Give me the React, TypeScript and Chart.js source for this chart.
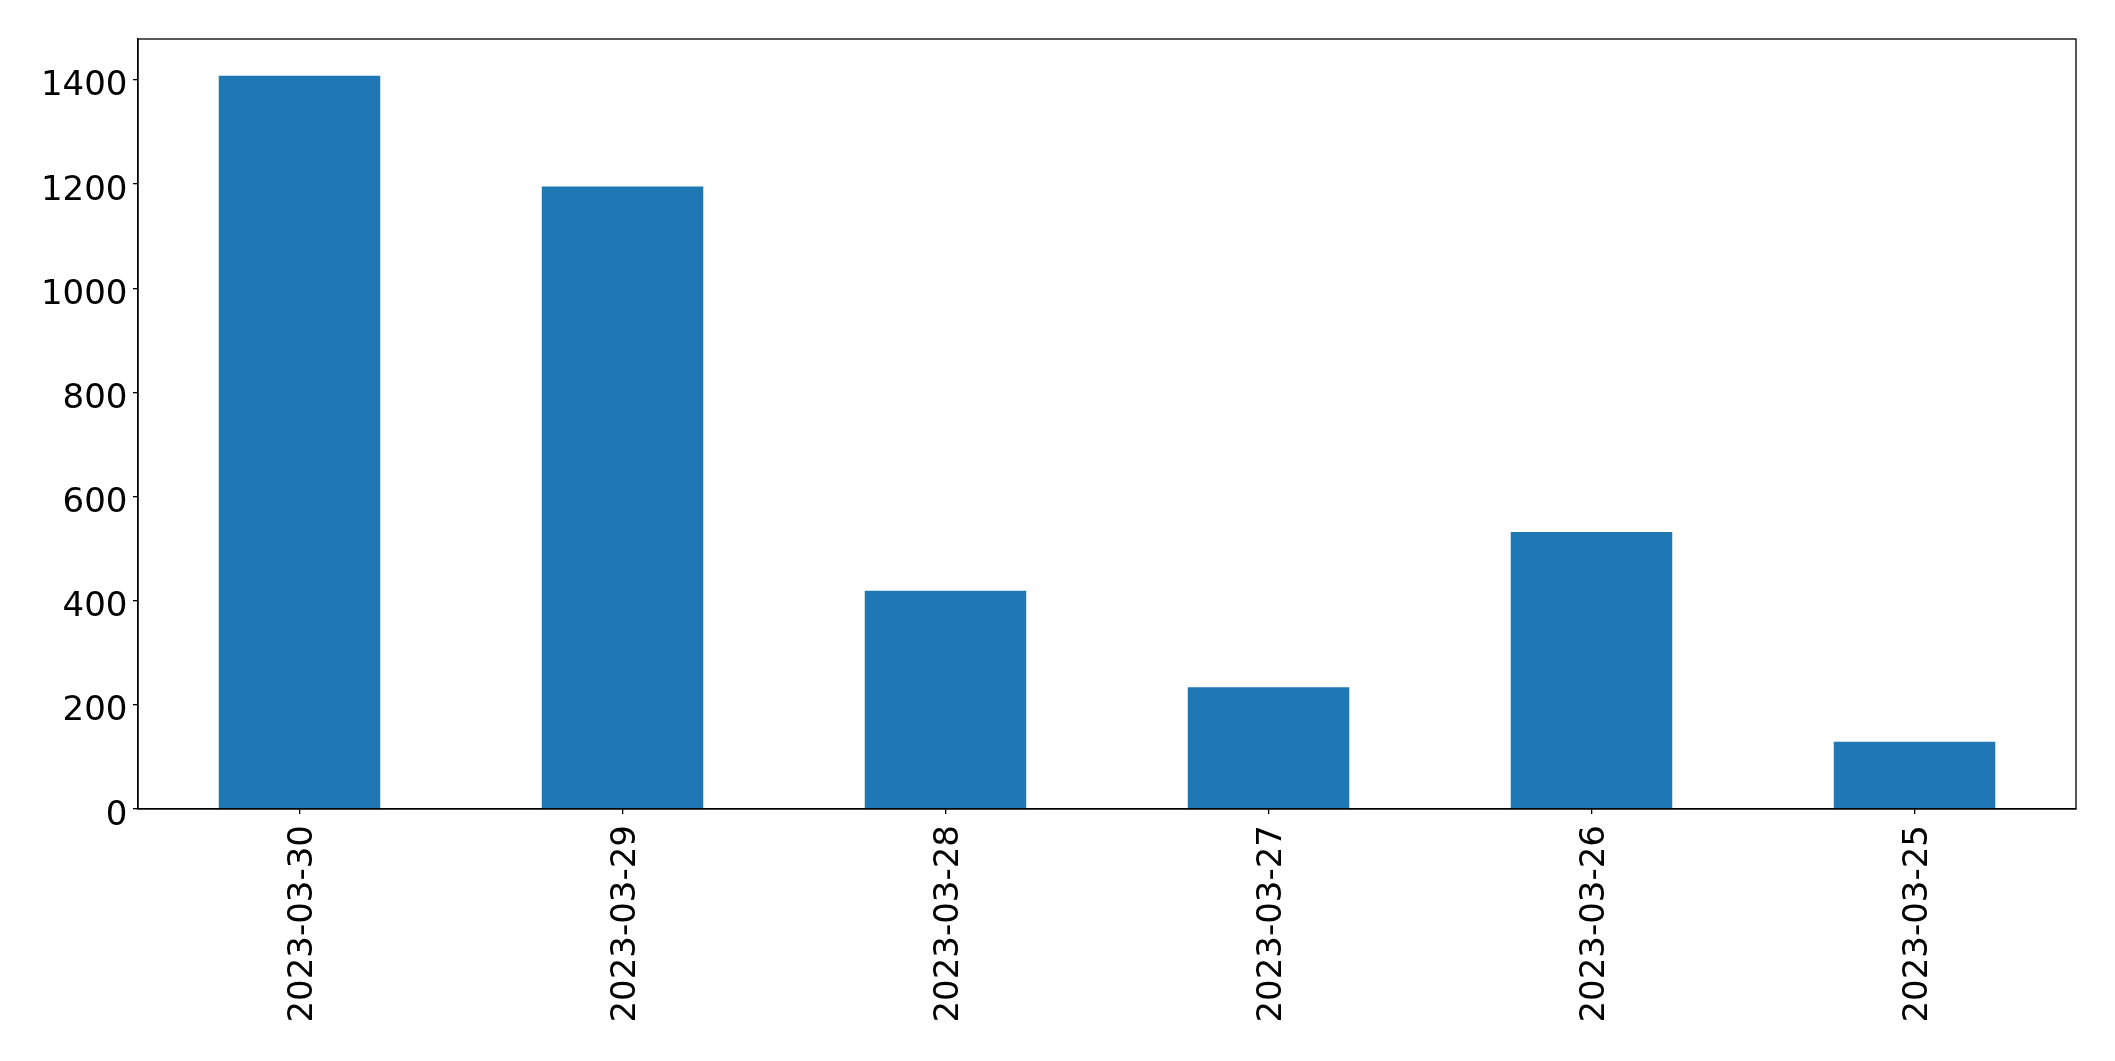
import React, { useEffect, useRef } from "react";
import { Chart, registerables } from "chart.js";

Chart.register(...registerables);

const categories = ["2023-03-30", "2023-03-29", "2023-03-28", "2023-03-27", "2023-03-26", "2023-03-25"];
const values = [1408, 1195, 419, 234, 532, 129];
const yTickValues = [0, 200, 400, 600, 800, 1000, 1200, 1400];

const W = 2115;
const H = 1061;
const FONT_SIZE = 34;
const FONT = "'DejaVu Sans', sans-serif";

const boxPlugin = {
  id: "boxPlugin",
  afterDatasetsDraw(chart: any) {
    const { ctx, chartArea } = chart;
    ctx.save();
    ctx.strokeStyle = "#000";
    ctx.lineWidth = 1.3;
    ctx.strokeRect(chartArea.left, chartArea.top, chartArea.right - chartArea.left, chartArea.bottom - chartArea.top);
    ctx.restore();
  },
};

// Draws tick labels matplotlib-style (real canvas text), positioned via the library's scales.
const labelPlugin = {
  id: "labelPlugin",
  afterDraw(chart: any) {
    const { ctx, chartArea } = chart;
    const xs = chart.scales.x;
    const ys = chart.scales.y;
    ctx.save();
    ctx.fillStyle = "#000";
    ctx.font = `${FONT_SIZE}px ${FONT}`;
    // y labels
    ctx.textAlign = "right";
    ctx.textBaseline = "alphabetic";
    ys.ticks.forEach((t: any) => {
      const y = ys.getPixelForValue(t.value);
      ctx.fillText(String(t.value), chartArea.left - 10.5, y + 15.6);
    });
    // x labels, rotated 90°
    const capHalf = FONT_SIZE * 0.3645;
    categories.forEach((lab, i) => {
      const x = xs.getPixelForTick(i);
      ctx.save();
      ctx.translate(x + capHalf, chartArea.bottom + 16);
      ctx.rotate(-Math.PI / 2);
      ctx.textAlign = "right";
      ctx.textBaseline = "alphabetic";
      ctx.fillText(lab, 0, 0);
      ctx.restore();
    });
    ctx.restore();
  },
};

export default function App() {
  const ref = useRef<HTMLCanvasElement | null>(null);
  useEffect(() => {
    if (!ref.current) return;
    const maxV = Math.max(...values) * 1.05;
    const chart = new Chart(ref.current, {
      type: "bar",
      data: {
        labels: categories,
        datasets: [
          {
            data: values,
            backgroundColor: "#1f77b4",
            borderWidth: 0,
            categoryPercentage: 1,
            barPercentage: 0.5,
          },
        ],
      },
      options: {
        responsive: false,
        animation: false,
        devicePixelRatio: 1,
        layout: { padding: { top: 39, right: 39, left: 0, bottom: 0 } },
        plugins: { legend: { display: false }, tooltip: { enabled: false } },
        scales: {
          x: {
            offset: true,
            grid: {
              display: true,
              offset: false,
              drawOnChartArea: false,
              drawTicks: true,
              tickLength: 5,
              color: "#000",
              lineWidth: 1.3,
            },
            border: { display: true, color: "#000", width: 1.3 },
            ticks: { display: false, autoSkip: false },
            afterFit: (s: any) => {
              s.height = H - 809;
            },
          },
          y: {
            min: 0,
            max: maxV,
            grid: { display: true, drawOnChartArea: false, drawTicks: true, tickLength: 5, color: "#000", lineWidth: 1.3 },
            border: { display: true, color: "#000", width: 1.3 },
            ticks: { display: false },
            afterBuildTicks: (s: any) => {
              s.ticks = yTickValues.map((v) => ({ value: v }));
            },
            afterFit: (s: any) => {
              s.width = 138;
            },
          },
        },
      },
      plugins: [boxPlugin, labelPlugin],
    });
    return () => chart.destroy();
  }, []);
  return (
    <div style={{ position: "fixed", left: 0, top: 0, width: W, height: H, background: "#fff" }}>
      <canvas ref={ref} width={W} height={H} style={{ width: W, height: H, display: "block" }} />
    </div>
  );
}
